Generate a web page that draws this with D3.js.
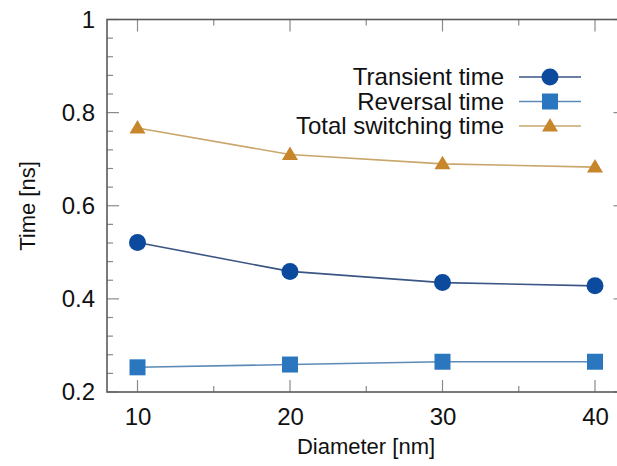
<!DOCTYPE html>
<html><head><meta charset="utf-8">
<script src="https://cdn.jsdelivr.net/npm/d3@7"></script>
<style>body{margin:0;background:#fff}svg{display:block;font-family:"Liberation Sans",Arial,sans-serif}</style>
</head><body>
<svg id="c" width="617" height="466"></svg>
<script>
const diameters = [10, 20, 30, 40];
const transientTime = [0.521, 0.459, 0.435, 0.428];
const reversalTime = [0.253, 0.259, 0.265, 0.265];
const totalSwitchingTime = [0.767, 0.710, 0.690, 0.683];
const seriesNames = ["Transient time", "Reversal time", "Total switching time"];
const xTickValues = [10, 20, 30, 40];
const yTickValues = [0.2, 0.4, 0.6, 0.8, 1];

const svg = d3.select("#c");
const L = 107, R = 625.5, T = 19.5, B = 392;
const x = d3.scaleLinear().domain([8, 42]).range([L, R]);
const y = d3.scaleLinear().domain([0.2, 1]).range([B, T]);

const tickCol = "#8a8a8a", frameCol = "#5a5a5a";
const xMinor = d3.range(10, 42, 5);
const yMinor = d3.range(0.2, 1.0001, 0.04);
const g = svg.append("g");
xMinor.forEach(v => {
  const major = xTickValues.includes(v);
  const len = major ? 12 : 6;
  g.append("line").attr("x1", x(v)).attr("x2", x(v)).attr("y1", B).attr("y2", B - len).attr("stroke", tickCol).attr("stroke-width", 1.2);
  g.append("line").attr("x1", x(v)).attr("x2", x(v)).attr("y1", T).attr("y2", T + len).attr("stroke", tickCol).attr("stroke-width", 1.2);
});
yMinor.forEach(v => {
  const major = yTickValues.some(t => Math.abs(t - v) < 1e-6);
  const len = major ? 12 : 6;
  g.append("line").attr("y1", y(v)).attr("y2", y(v)).attr("x1", L).attr("x2", L + len).attr("stroke", tickCol).attr("stroke-width", 1.2);
  g.append("line").attr("y1", y(v)).attr("y2", y(v)).attr("x1", R).attr("x2", R - len).attr("stroke", tickCol).attr("stroke-width", 1.2);
});
svg.append("rect").attr("x", L).attr("y", T).attr("width", R - L).attr("height", B - T)
  .attr("fill", "none").attr("stroke", frameCol).attr("stroke-width", 1.6);

const xAxis = svg.append("g").attr("transform", `translate(0,${B})`)
  .call(d3.axisBottom(x).tickValues(xTickValues).tickSize(0).tickPadding(16).tickFormat(d3.format("d")));
xAxis.select(".domain").remove();
xAxis.selectAll("text").attr("font-size", 24).attr("fill", "#111").attr("font-family", "Liberation Sans, Arial, sans-serif");
const yAxis = svg.append("g").attr("transform", `translate(${L},0)`)
  .call(d3.axisLeft(y).tickValues(yTickValues).tickSize(0).tickPadding(12).tickFormat(d => d === 1 ? "1" : d3.format(".1f")(d)));
yAxis.select(".domain").remove();
yAxis.selectAll("text").attr("font-size", 24).attr("fill", "#111").attr("font-family", "Liberation Sans, Arial, sans-serif");

svg.append("text").attr("x", 366).attr("y", 454).attr("text-anchor", "middle")
  .attr("font-size", 22).attr("fill", "#111").text("Diameter [nm]");
svg.append("text").attr("transform", "translate(35,206) rotate(-90)").attr("text-anchor", "middle")
  .attr("font-size", 22).attr("fill", "#111").text("Time [ns]");

const series = [
  {name: seriesNames[0], vals: transientTime, line: "#3b5685", fill: "#0b4a9c", shape: "circle"},
  {name: seriesNames[1], vals: reversalTime, line: "#5d8bb6", fill: "#2a77c0", shape: "square"},
  {name: seriesNames[2], vals: totalSwitchingTime, line: "#c9a66c", fill: "#c8862b", shape: "triangle"}
];
function marker(sel, shape, cx, cy, fill) {
  if (shape === "circle") sel.append("circle").attr("cx", cx).attr("cy", cy).attr("r", 8.5).attr("fill", fill);
  else if (shape === "square") sel.append("rect").attr("x", cx - 8).attr("y", cy - 8).attr("width", 16).attr("height", 16).attr("fill", fill);
  else sel.append("path").attr("d", `M${cx},${cy - 8} L${cx + 8},${cy + 5.5} L${cx - 8},${cy + 5.5} Z`).attr("fill", fill);
}
const line = d3.line().x((d, i) => x(diameters[i])).y(d => y(d));
series.forEach(s => {
  svg.append("path").attr("d", line(s.vals)).attr("fill", "none").attr("stroke", s.line).attr("stroke-width", 1.6);
  const mg = svg.append("g");
  s.vals.forEach((v, i) => marker(mg, s.shape, x(diameters[i]), y(v), s.fill));
});

const lg = svg.append("g");
series.forEach((s, i) => {
  const yy = 77 + i * 24.5;
  lg.append("text").attr("x", 504).attr("y", yy).attr("dy", "0.35em").attr("text-anchor", "end")
    .attr("font-size", 24).attr("fill", "#111").text(s.name);
  lg.append("line").attr("x1", 519).attr("x2", 581).attr("y1", yy).attr("y2", yy).attr("stroke", s.line).attr("stroke-width", 1.6);
  marker(lg, s.shape, 550, yy, s.fill);
});
</script>
</body></html>
